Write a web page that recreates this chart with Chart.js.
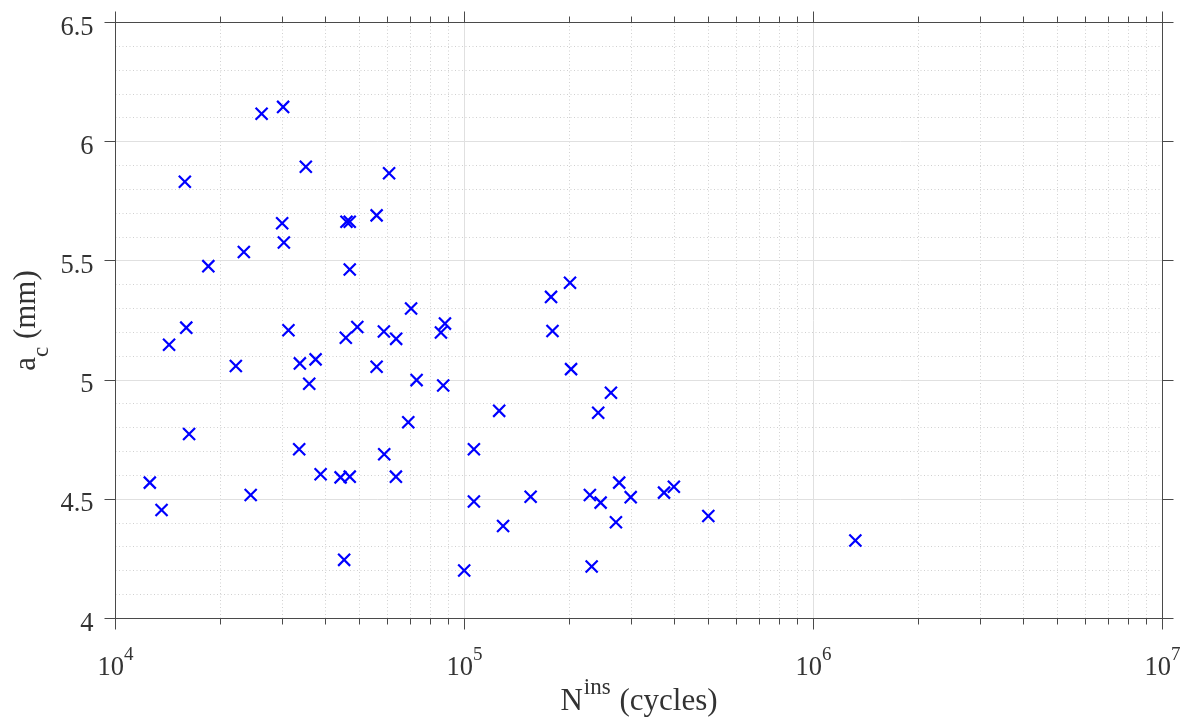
<!DOCTYPE html>
<html>
<head>
<meta charset="utf-8">
<script src="https://cdn.jsdelivr.net/npm/chart.js@4.4.1/dist/chart.umd.min.js"></script>
<style>
	html, body { margin: 0; padding: 0; background: #fff; }
	canvas { display: block; }
</style>
</head>
<body>
<canvas id="cntx_scatter" width="1190" height="720"></canvas>
<script>
// N^ins (cycles) and a_c (mm)
const cycles = [
	1.254e4, 1.355e4, 1.424e4, 1.58e4, 1.595e4, 1.625e4, 1.845e4, 2.212e4, 2.332e4, 2.44e4,
	2.622e4, 3.022e4, 3.003e4, 3.037e4, 3.13e4, 3.36e4, 3.375e4, 3.51e4, 3.59e4, 3.744e4,
	3.87e4, 4.57e4, 4.415e4, 4.52e4, 4.59e4, 4.69e4, 4.69e4, 4.69e4, 4.93e4, 5.6e4,
	5.6e4, 5.875e4, 5.888e4, 6.08e4, 6.37e4, 6.36e4, 6.9e4, 7.03e4, 7.29e4, 8.56e4,
	8.79e4, 8.69e4, 9.98e4, 1.064e5, 1.064e5, 1.257e5, 1.29e5, 1.547e5, 1.77e5, 1.787e5,
	2.006e5, 2.02e5, 2.416e5, 2.628e5, 2.287e5, 2.455e5, 2.775e5, 2.994e5, 2.716e5, 2.314e5,
	3.73e5, 3.98e5, 4.996e5, 1.318e6,
];
const crackDepth = [
	4.570, 4.455, 5.148, 5.832, 5.220, 4.774, 5.478, 5.059, 5.537, 4.518,
	6.117, 6.146, 5.658, 5.577, 5.209, 4.710, 5.070, 5.895, 4.985, 5.087,
	4.605, 5.178, 4.592, 4.246, 5.664, 5.664, 5.464, 4.595, 5.223, 5.691,
	5.056, 5.204, 4.689, 5.868, 5.173, 4.595, 4.823, 5.300, 5.000, 5.200,
	5.237, 4.977, 4.201, 4.710, 4.491, 4.871, 4.388, 4.511, 5.349, 5.206,
	5.408, 5.046, 4.863, 4.947, 4.518, 4.486, 4.570, 4.509, 4.404, 4.218,
	4.528, 4.553, 4.430, 4.327,
];

const xTickExponents = [4, 5, 6, 7];
const yTickValues = [4, 4.5, 5, 5.5, 6, 6.5];
const yTickLabels = ["4", "4.5", "5", "5.5", "6", "6.5"];

const xMajor = xTickExponents.map((e) => Math.pow(10, e));
const xMinor = [];
xMajor.slice(0, -1).forEach((d) => {
	for (let m = 2; m <= 9; m++) xMinor.push(m * d);
});
const yMinor = [];
for (let i = 41; i < 65; i++) {
	if (i % 5 != 0) yMinor.push(i / 10);
}

const FONT = "'Liberation Serif', 'Times New Roman', serif";
const TEXT = "#333333";
const AXIS = "#4a4a4a";

const crisp = (v) => Math.round(v - 0.5) + 0.5;

const seg = (ctx, x1, y1, x2, y2) => {
	ctx.beginPath();
	ctx.moveTo(x1, y1);
	ctx.lineTo(x2, y2);
	ctx.stroke();
};

const axesDecor = {
	id: "axesDecor",
	beforeDatasetsDraw(chart) {
		const ctx = chart.ctx;
		const xs = chart.scales.x;
		const ys = chart.scales.y;
		const a = chart.chartArea;
		const L = crisp(a.left), R = crisp(a.right), T = crisp(a.top), B = crisp(a.bottom);
		ctx.save();
		ctx.lineWidth = 1;

		// minor grid, dotted
		ctx.strokeStyle = "#d0d0d0";
		ctx.setLineDash([1, 2.5]);
		xMinor.forEach((v) => {
			const px = crisp(xs.getPixelForValue(v));
			seg(ctx, px, T, px, B);
		});
		yMinor.forEach((v) => {
			const py = crisp(ys.getPixelForValue(v));
			seg(ctx, L, py, R, py);
		});

		// major grid
		ctx.setLineDash([]);
		ctx.strokeStyle = "#e0e0e0";
		xMajor.forEach((v) => {
			const px = crisp(xs.getPixelForValue(v));
			seg(ctx, px, T, px, B);
		});
		yTickValues.forEach((v) => {
			const py = crisp(ys.getPixelForValue(v));
			seg(ctx, L, py, R, py);
		});

		// box and outward ticks
		ctx.strokeStyle = AXIS;
		ctx.strokeRect(L, T, R - L, B - T);
		xMajor.forEach((v) => {
			const px = crisp(xs.getPixelForValue(v));
			seg(ctx, px, B, px, B + 11);
			seg(ctx, px, T, px, T - 11);
		});
		xMinor.forEach((v) => {
			const px = crisp(xs.getPixelForValue(v));
			seg(ctx, px, B, px, B + 6);
			seg(ctx, px, T, px, T - 6);
		});
		yTickValues.forEach((v) => {
			const py = crisp(ys.getPixelForValue(v));
			seg(ctx, L, py, L - 11, py);
			seg(ctx, R, py, R + 11, py);
		});

		// tick labels
		ctx.fillStyle = TEXT;
		ctx.textBaseline = "alphabetic";
		ctx.textAlign = "right";
		ctx.font = "26.5px " + FONT;
		yTickValues.forEach((v, i) => {
			ctx.fillText(yTickLabels[i], 93.5, ys.getPixelForValue(v) + 12);
		});
		ctx.textAlign = "left";
		xTickExponents.forEach((e, i) => {
			const px = xs.getPixelForValue(xMajor[i]);
			ctx.font = "26.5px " + FONT;
			const wBase = ctx.measureText("10").width;
			ctx.font = "19px " + FONT;
			const wExp = ctx.measureText(String(e)).width;
			const x0 = px - (wBase + wExp) / 2;
			ctx.font = "26.5px " + FONT;
			ctx.fillText("10", x0, 675);
			ctx.font = "19px " + FONT;
			ctx.fillText(String(e), x0 + wBase, 660);
		});

		// x title: N^ins (cycles)
		const cx = (a.left + a.right) / 2;
		ctx.font = "31px " + FONT;
		const wN = ctx.measureText("N").width;
		const wRest = ctx.measureText(" (cycles)").width;
		ctx.font = "23px " + FONT;
		const wSup = ctx.measureText("ins").width;
		let x = cx - (wN + wSup + 2 + wRest) / 2;
		ctx.font = "31px " + FONT;
		ctx.fillText("N", x, 710);
		ctx.font = "23px " + FONT;
		ctx.fillText("ins", x + wN + 1, 694);
		ctx.font = "31px " + FONT;
		ctx.fillText(" (cycles)", x + wN + wSup + 2, 710);

		// y title: a_c (mm), rotated
		const cy = (a.top + a.bottom) / 2;
		ctx.translate(35, cy);
		ctx.rotate(-Math.PI / 2);
		ctx.font = "31px " + FONT;
		const wA = ctx.measureText("a").width;
		const wMm = ctx.measureText(" (mm)").width;
		ctx.font = "23px " + FONT;
		const wSub = ctx.measureText("c").width;
		x = -(wA + wSub + wMm) / 2;
		ctx.font = "31px " + FONT;
		ctx.fillText("a", x, 0);
		ctx.font = "23px " + FONT;
		ctx.fillText("c", x + wA, 13);
		ctx.font = "31px " + FONT;
		ctx.fillText(" (mm)", x + wA + wSub, 0);

		ctx.restore();
	},
};

const points = cycles.map((n, i) => ({ x: n, y: crackDepth[i] }));

const scatter_cntx = document.querySelector("#cntx_scatter");
const myChart = new Chart(scatter_cntx, {
	type: "scatter",
	data: {
		datasets: [
			{
				label: "a_c",
				data: points,
				pointStyle: "crossRot",
				pointRadius: 8.5,
				pointHoverRadius: 8.5,
				borderColor: "#0000ff",
				backgroundColor: "#0000ff",
				borderWidth: 2.2,
			},
		],
	},
	options: {
		responsive: false,
		animation: false,
		devicePixelRatio: 1,
		layout: {
			padding: { left: 115.5, right: 27.5, top: 22.5, bottom: 101.5 },
		},
		plugins: {
			legend: { display: false },
			tooltip: { enabled: false },
		},
		scales: {
			x: { type: "logarithmic", min: 1e4, max: 1e7, display: false },
			y: { type: "linear", min: 4, max: 6.5, display: false },
		},
	},
	plugins: [axesDecor],
});
</script>
</body>
</html>
